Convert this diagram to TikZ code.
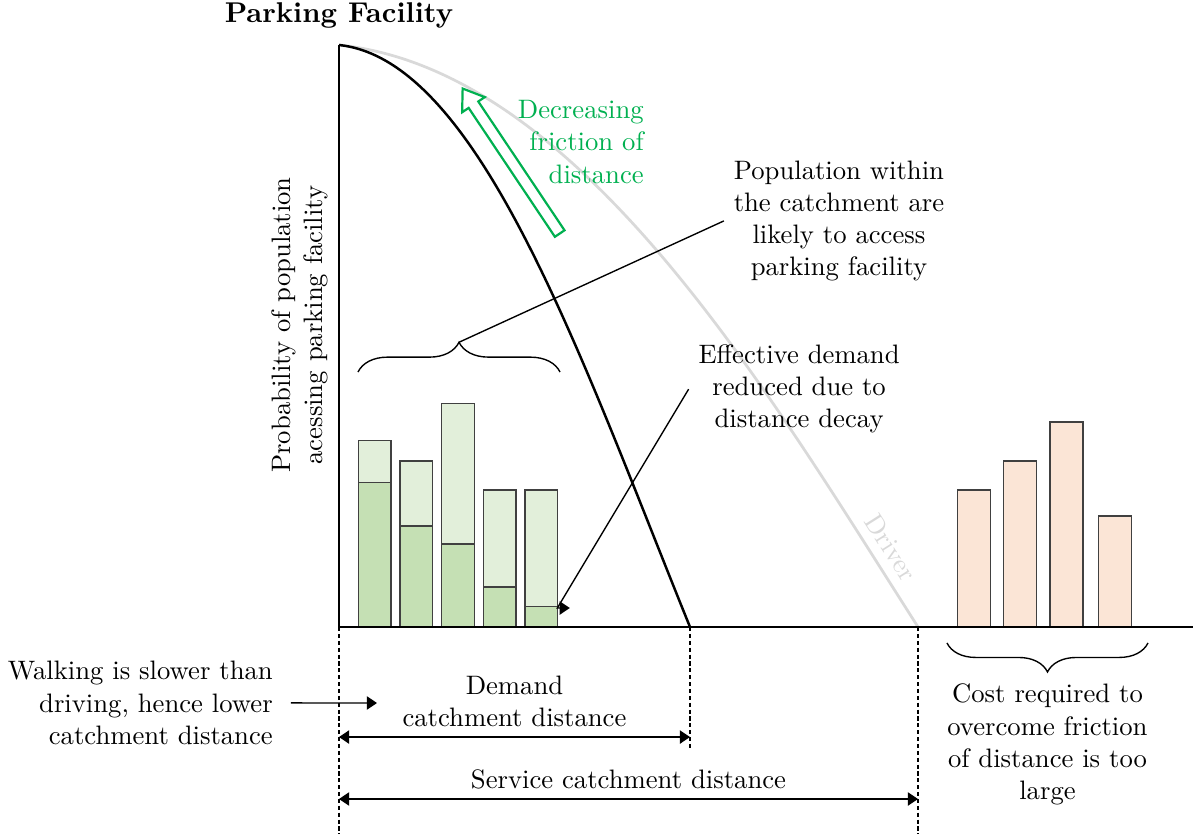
\documentclass[tikz,border=0pt]{standalone}
\usetikzlibrary{shapes}
\usetikzlibrary{shapes.arrows}
\usetikzlibrary{calc}
\usetikzlibrary{positioning}
\usetikzlibrary{arrows.meta}
\usetikzlibrary{decorations.pathreplacing}

\definecolor{friction}{HTML}{00B050}
\definecolor{drivegray}{HTML}{D9D9D9}
\definecolor{walklight}{HTML}{E2EFDA}
\definecolor{walkdark}{HTML}{C5E0B4}
\definecolor{costfill}{HTML}{FBE5D6}

\begin{document}
\begin{tikzpicture}[line width = 0.5pt,
    every node/.style = {font=\fontsize{9.7pt}{11.7pt}\selectfont},
    tip/.style = {-{Triangle[length=0.13cm, width=0.17cm]}},
    dimline/.style = {{Triangle[length=0.13cm, width=0.17cm]}-{Triangle[length=0.13cm, width=0.17cm]}},
    guide/.style = {dash pattern=on 1.5pt off 1pt},
    lightbar/.style = {draw=black!75, fill=walklight},
    darkbar/.style = {draw=black!75, fill=walkdark},
    costbar/.style = {draw=black!75, fill=costfill},
    braceup/.style = {decorate, decoration={brace, amplitude=0.38cm}},
    bracedown/.style = {decorate, decoration={brace, mirror, amplitude=0.37cm}}]

    \useasboundingbox (-4.332,-2.645) rectangle (10.965,8.013);

    \coordinate (O) at (0,0);
    \coordinate (ytop) at (0,7.438);
    \coordinate (xend) at (10.914,0);
    \coordinate (walkend) at (4.486,0);
    \coordinate (driveend) at (7.400,0);

    % bars of the population
    \foreach \i/\hl/\hd in {1/2.38/1.85, 2/2.12/1.29, 3/2.86/1.06, 4/1.75/0.51, 5/1.75/0.26}{
        \draw[lightbar] ({0.247+(\i-1)*0.532},0) rectangle ++(0.418,\hl);
        \draw[darkbar] ({0.247+(\i-1)*0.532},0) rectangle ++(0.418,\hd);
    }
    \foreach \x/\h in {7.907/1.75, 8.490/2.12, 9.087/2.62, 9.704/1.42}{
        \draw[costbar] (\x,0) rectangle ++(0.42,\h);
    }

    % distance decay curves
    \draw[drivegray, line width = 1pt] (ytop) .. controls (3.080,7.118) and (5.483,3.003) .. (driveend)
        node [pos=0.905, sloped, above, text=drivegray] (driver) {Driver};
    \draw[line width = 0.9pt] (ytop) .. controls (1.802,7.246) and (3.106,3.400) .. (walkend);

    \draw (ytop) -- (O) -- (xend);

    \node (title) at (0,7.82) {\fontsize{10.4pt}{12.5pt}\selectfont\bfseries Parking Facility};
    \node (ylabel) at (-0.50,3.86) [rotate=90, align=center] {Probability of population\\acessing parking facility};

    \node (arrow) at (2.230,5.911) [single arrow, draw=friction, line width=0.8pt, fill=white,
        minimum height=2.23cm, inner sep=0.06cm, single arrow head extend=0.1cm,
        single arrow tip angle=70, rotate=123.8] {};
    \node (friction) [anchor=east, align=right, text=friction] at (4.02,6.20) {Decreasing\\friction of\\distance};

    \node (pop) at (6.39,5.19) [align=center] {Population within\\the catchment are\\likely to access\\parking facility};
    \draw[braceup] (0.243,3.259) -- (2.825,3.259) coordinate [midway, yshift=0.38cm] (ptip);
    \draw (ptip) -- (pop.west);

    \node (eff) at (5.88,3.04) [align=center] {Effective demand\\reduced due to\\distance decay};
    \coordinate (bar5) at (2.790,0.243);
    \draw[tip] (eff.west) -- (bar5) -- ++(0.16,0);

    \draw[bracedown] (7.770,-0.204) -- (10.339,-0.204) coordinate [midway, yshift=-0.37cm] (ctip);
    \node (cost) [below=0.03cm of ctip, align=center] {Cost required to\\overcome friction\\of distance is too\\large};

    % catchment distances
    \draw[guide] (O) -- (0,-2.645);
    \draw[guide] (walkend) -- ++(0,-1.546);
    \draw[guide] (driveend) -- (7.400,-2.645);

    \draw[dimline] (0,-1.406) -- (4.486,-1.406) node [midway, above, align=center] (demand) {Demand\\catchment distance};
    \draw[dimline] (0,-2.198) -- (7.400,-2.198) node [midway, above] (service) {Service catchment distance};

    \node (walk) [anchor=east, align=right] at (-0.72,-0.97) {Walking is slower than\\driving, hence lower\\catchment distance};
    \coordinate (walkarr) at (0.486,-0.971);
    \draw[tip] ([xshift=3pt]walk.east) -- (walkarr);

\end{tikzpicture}
\end{document}
